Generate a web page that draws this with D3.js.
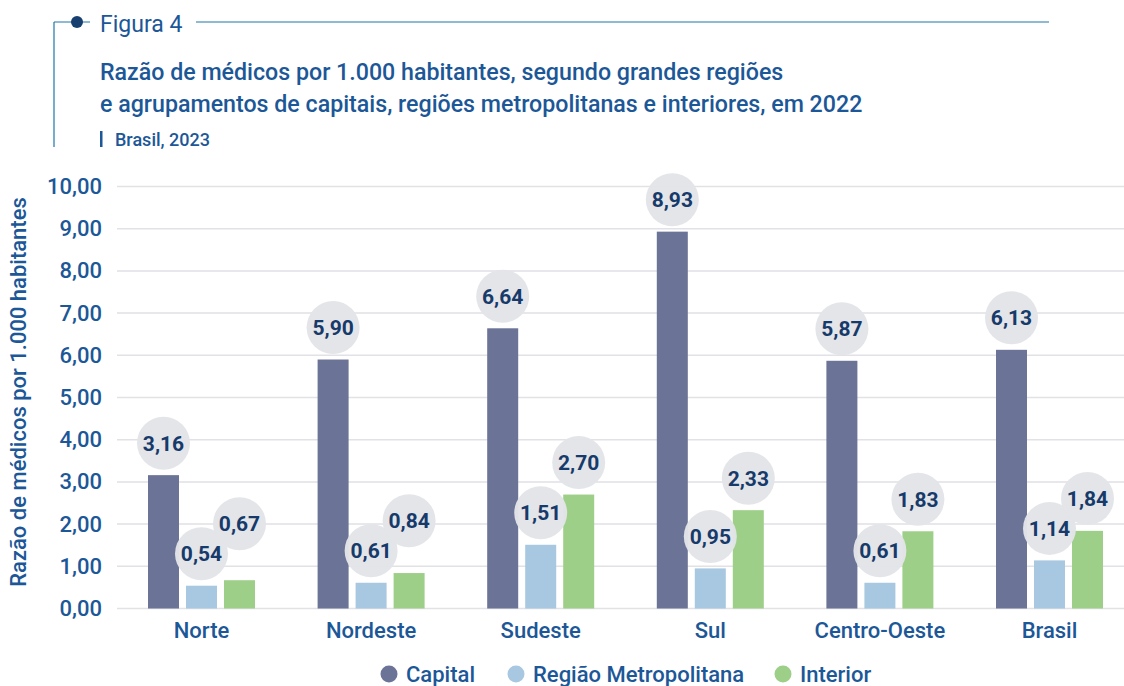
<!DOCTYPE html>
<html>
<head>
<meta charset="utf-8">
<script src="https://cdn.jsdelivr.net/npm/d3@7"></script>
<style>
  body { margin: 0; background: #fff; }
  svg { font-family: Roboto, "Noto Sans", sans-serif; }
</style>
</head>
<body>
<svg id="chart" width="1124" height="686"></svg>
<script>
// data
var regions = ['Norte', 'Nordeste', 'Sudeste', 'Sul', 'Centro-Oeste', 'Brasil'];
var seriesNames = ['Capital', 'Região Metropolitana', 'Interior'];
var capital = [3.16, 5.90, 6.64, 8.93, 5.87, 6.13];
var metropolitana = [0.54, 0.61, 1.51, 0.95, 0.61, 1.14];
var interior = [0.67, 0.84, 2.70, 2.33, 1.83, 1.84];
var yTicks = [0, 1, 2, 3, 4, 5, 6, 7, 8, 9, 10];

var colors = ['#6b7396', '#a7c8e0', '#9dcf88'];
var textBlue = '#1c5797';
var navy = '#163a6a';

var svg = d3.select('#chart');
var fmt = function(v) { return d3.format('.2f')(v).replace('.', ','); };

// header
svg.append('line').attr('x1', 54).attr('x2', 54).attr('y1', 22).attr('y2', 147)
    .attr('stroke', '#1f76aa').attr('stroke-width', 1.2);
svg.append('line').attr('x1', 54).attr('x2', 90).attr('y1', 22).attr('y2', 22)
    .attr('stroke', '#1f76aa').attr('stroke-width', 1.2);
svg.append('line').attr('x1', 196).attr('x2', 1049).attr('y1', 22).attr('y2', 22)
    .attr('stroke', '#1f76aa').attr('stroke-width', 1.2);
svg.append('circle').attr('cx', 77).attr('cy', 22).attr('r', 6).attr('fill', '#173f70');
svg.append('text').attr('x', 100).attr('y', 32).text('Figura 4')
    .attr('font-size', 23).attr('fill', textBlue);
svg.append('text').attr('x', 100).attr('y', 80)
    .text('Razão de médicos por 1.000 habitantes, segundo grandes regiões')
    .attr('font-size', 23.2).attr('font-weight', 500).attr('fill', textBlue);
svg.append('text').attr('x', 100).attr('y', 112)
    .text('e agrupamentos de capitais, regiões metropolitanas e interiores, em 2022')
    .attr('font-size', 23.2).attr('font-weight', 500).attr('fill', textBlue);
svg.append('rect').attr('x', 100).attr('y', 131).attr('width', 2.5).attr('height', 16).attr('fill', textBlue);
svg.append('text').attr('x', 115).attr('y', 146).text('Brasil, 2023')
    .attr('font-size', 18).attr('font-weight', 500).attr('fill', textBlue);

// scales
var x0 = d3.scaleBand().domain(regions).range([116.7, 1134.3]);
var step = 38, barW = 31;
var y = d3.scaleLinear().domain([0, 10]).range([608.5, 186.5]);

// grid
svg.append('g').selectAll('line').data(yTicks).join('line')
    .attr('x1', 117).attr('x2', 1124)
    .attr('y1', function(d) { return y(d); }).attr('y2', function(d) { return y(d); })
    .attr('stroke', '#e1e1e6').attr('stroke-width', 1.5);

// y axis labels
var yAxis = d3.axisLeft(y).tickValues(yTicks).tickFormat(fmt).tickSize(0).tickPadding(0);
var yg = svg.append('g').attr('transform', 'translate(102,0)').call(yAxis);
yg.select('.domain').remove();
yg.selectAll('text').attr('font-size', 22).attr('font-family', 'Roboto')
    .attr('fill', textBlue).attr('font-weight', 500);

svg.append('text')
    .attr('transform', 'translate(26,392) rotate(-90)')
    .attr('text-anchor', 'middle')
    .attr('font-size', 22).attr('font-weight', 500).attr('fill', textBlue)
    .text('Razão de médicos por 1.000 habitantes');

// x axis labels
var xAxis = d3.axisBottom(x0).tickSize(0).tickPadding(0);
var xg = svg.append('g').attr('transform', 'translate(0,622)').call(xAxis);
xg.select('.domain').remove();
xg.selectAll('text').attr('font-size', 22).attr('font-family', 'Roboto')
    .attr('fill', textBlue).attr('font-weight', 500);

// bars and labels
var series = [capital, metropolitana, interior];
var rows = regions.map(function(r, i) {
    return { region: r, values: series.map(function(s) { return s[i]; }) };
});

var groups = svg.append('g').selectAll('g').data(rows).join('g')
    .attr('transform', function(d) {
        return 'translate(' + (x0(d.region) + x0.bandwidth() / 2) + ',0)';
    });

groups.each(function(d) {
    var g = d3.select(this);
    var labelY = d.values.map(function(v) { return y(v) - 32; });
    // push the interior bubble up if it collides with the metropolitan one
    if (labelY[2] > labelY[1] - 30) labelY[2] = labelY[1] - 30;
    d.values.forEach(function(v, k) {
        var cx = (k - 1) * step;
        g.append('rect')
            .attr('x', cx - barW / 2).attr('width', barW)
            .attr('y', y(v)).attr('height', y(0) - y(v))
            .attr('fill', colors[k]);
    });
    d.values.forEach(function(v, k) {
        var cx = (k - 1) * step;
        g.append('circle').attr('cx', cx).attr('cy', labelY[k]).attr('r', 26.5)
            .attr('fill', '#e3e4e8').attr('fill-opacity', 0.97);
        g.append('text').attr('x', cx).attr('y', labelY[k] + 7.5)
            .attr('text-anchor', 'middle')
            .attr('font-size', 21).attr('font-weight', 700).attr('fill', navy)
            .text(fmt(v));
    });
});

// legend
var legendX = [389, 516, 783];
var legend = svg.append('g').selectAll('g').data(seriesNames).join('g')
    .attr('transform', function(d, i) { return 'translate(' + legendX[i] + ',674)'; });
legend.append('circle').attr('r', 8.5).attr('fill', function(d, i) { return colors[i]; });
legend.append('text').attr('x', 17).attr('y', 8).text(function(d) { return d; })
    .attr('font-size', 22).attr('font-weight', 500).attr('fill', textBlue);
</script>
</body>
</html>
